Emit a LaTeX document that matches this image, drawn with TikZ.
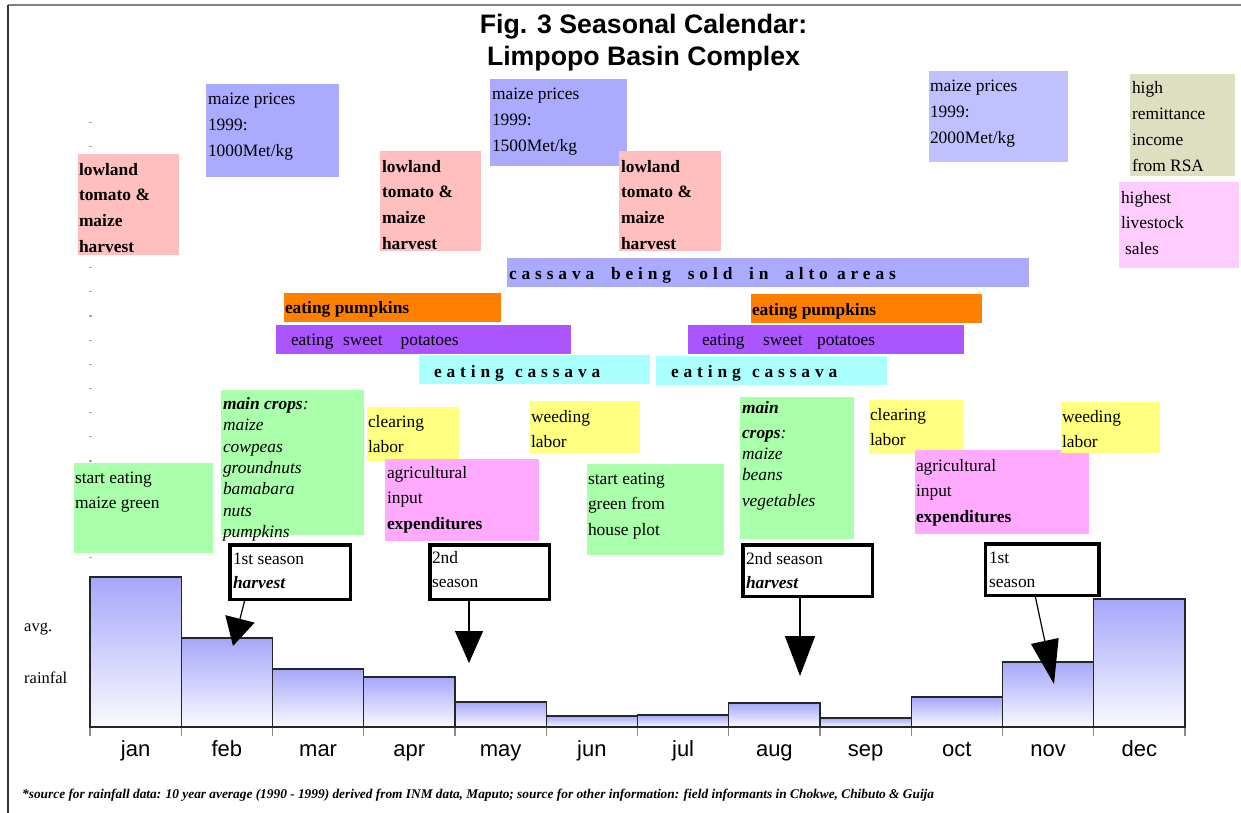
\documentclass[tikz,border=0pt]{standalone}
\usepackage{fontspec}
\setmainfont{Liberation Serif}
\newfontfamily\arialf{Liberation Sans}
\newfontfamily\spacedf[LetterSpace=28]{Liberation Serif}
\usetikzlibrary{arrows.meta,calc}

\definecolor{pricebl}{RGB}{170,170,255}
\definecolor{pricebltwo}{RGB}{192,192,255}
\definecolor{tomred}{RGB}{255,191,191}
\definecolor{khaki}{RGB}{222,222,192}
\definecolor{lvpink}{RGB}{255,204,255}
\definecolor{pumpor}{RGB}{255,128,0}
\definecolor{potpur}{RGB}{170,85,255}
\definecolor{cascyan}{RGB}{170,255,255}
\definecolor{crgreen}{RGB}{170,255,170}
\definecolor{labyel}{RGB}{255,255,128}
\definecolor{agpink}{RGB}{255,170,255}
\definecolor{bartop}{RGB}{166,166,250}
\definecolor{barbot}{RGB}{250,250,255}

\tikzset{
  fillbox/.style={anchor=north west, inner sep=0pt, outer sep=0pt, draw=none},
  btxt/.style={anchor=north west, inner sep=0pt, outer sep=0pt, align=left,
    font=\fontsize{17.4}{25.8}\selectfont},
  linetxt/.style={anchor=base west, inner sep=0pt, outer sep=0pt,
    font=\fontsize{17.4}{20}\selectfont},
  spacedtxt/.style={anchor=base west, inner sep=0pt, outer sep=0pt,
    font=\spacedf\bfseries\fontsize{17.4}{20}\selectfont},
  croptxt/.style={anchor=north west, inner sep=0pt, outer sep=0pt, align=left,
    font=\fontsize{17.4}{21.3}\selectfont},
  callbox/.style={draw=black, line width=3.5pt, fill=white, inner sep=0pt, outer sep=0pt},
  ctxt/.style={anchor=north west, inner sep=0pt, outer sep=0pt, align=left,
    font=\fontsize{17.4}{24}\selectfont},
  callarrow/.style={line width=1.2pt, draw=black},
  month/.style={anchor=base, inner sep=0pt, font=\arialf\fontsize{22}{26}\selectfont},
  axlabel/.style={anchor=base west, inner sep=0pt, font=\fontsize{16.5}{20}\selectfont},
  titletxt/.style={anchor=base, inner sep=0pt, font=\arialf\bfseries\fontsize{26.7}{32}\selectfont},
  foot/.style={anchor=base west, inner sep=0pt, font=\bfseries\itshape\fontsize{13.35}{15}\selectfont},
  bar/.style={top color=bartop, bottom color=barbot, draw=black!85, line width=1.2pt},
  tick/.style={draw=black!45, line width=1.4pt},
}

% name, x, y, w, h, colour, dx, dy, text
\newcommand{\tbox}[9]{%
  \node[fillbox, fill=#6, minimum width=#4pt, minimum height=#5pt] (#1) at (#2,#3) {};
  \node[btxt] (#1-t) at ([shift={(#7,#8)}]#1.north west) {\strut #9};
}

\begin{document}
\begin{tikzpicture}[x=1pt,y=-1pt]
\useasboundingbox (0,0) rectangle (1241,813);
\fill[white] (0,0) rectangle (1241,813);

% frame
\draw[black!50, line width=1.6pt] (8,5) -- (1241,5);
\draw[black!80, line width=1.3pt] (8,5) -- (8,813);

% little guide dots
\foreach \k in {0,...,18} \fill[black!35] (89,{122+24.17*\k}) rectangle (91.5,{123.2+24.17*\k});

% title
\node[titletxt] (title1) at (643.5,34) {Fig. 3 Seasonal Calendar:};
\node[titletxt] (title2) at (643.5,66) {Limpopo Basin Complex};

% top boxes
\tbox{p1}{206}{84}{133}{93}{pricebl}{2}{2.94}{maize prices\\1999:\\1000Met/kg}
\tbox{t1}{78}{154}{101}{101}{tomred}{1}{2.94}{\textbf{lowland}\\\textbf{tomato \&}\\\textbf{maize}\\\textbf{harvest}}
\tbox{t2}{380}{151}{101}{100}{tomred}{2}{2.94}{\textbf{lowland}\\\textbf{tomato \&}\\\textbf{maize}\\\textbf{harvest}}
\tbox{p2}{490}{79}{137}{87}{pricebl}{2}{2.94}{maize prices\\1999:\\1500Met/kg}
\tbox{t3}{619}{151}{102}{100}{tomred}{2}{2.94}{\textbf{lowland}\\\textbf{tomato \&}\\\textbf{maize}\\\textbf{harvest}}
\tbox{p3}{929}{71}{139}{91}{pricebltwo}{1}{2.94}{maize prices\\1999:\\2000Met/kg}
\tbox{rem}{1130}{74}{105}{102}{khaki}{2}{1.94}{high\\remittance\\income\\from RSA}
\tbox{live}{1119}{182}{120}{86}{lvpink}{2}{2.94}{highest\\livestock\\\hspace{4pt}sales}

% long bars
\node[fillbox, fill=pricebl, minimum width=522pt, minimum height=29pt] (sold) at (507,258) {};
\node[spacedtxt] (sold-t) at (509,279) {cassava\hspace{7.5pt} being\hspace{7.5pt} sold\hspace{7.5pt} in\hspace{7.5pt} alto areas};
\node[fillbox, fill=pumpor, minimum width=217pt, minimum height=29pt] (pk1) at (284,293) {};
\node[linetxt, font=\bfseries\fontsize{17.4}{20}\selectfont] (pk1-t) at (285,313) {eating pumpkins};
\node[fillbox, fill=potpur, minimum width=295pt, minimum height=29pt] (sp1) at (276,325) {};
\node[linetxt] (sp1-t) at (291,345) {eating\hspace{9.5pt}sweet\hspace{18pt}potatoes};
\node[fillbox, fill=cascyan, minimum width=231pt, minimum height=29pt] (cs1) at (419,355) {};
\node[spacedtxt] (cs1-t) at (434,377) {eating\hspace{2pt} cassava};
\node[fillbox, fill=pumpor, minimum width=231pt, minimum height=29pt] (pk2) at (751,294) {};
\node[linetxt, font=\bfseries\fontsize{17.4}{20}\selectfont] (pk2-t) at (752,315) {eating pumpkins};
\node[fillbox, fill=potpur, minimum width=276pt, minimum height=29pt] (sp2) at (688,325) {};
\node[linetxt] (sp2-t) at (702,345) {eating\hspace{18.5pt}sweet\hspace{14.5pt}potatoes};
\node[fillbox, fill=cascyan, minimum width=231pt, minimum height=29pt] (cs2) at (656,356) {};
\node[spacedtxt] (cs2-t) at (671,377) {eating\hspace{2pt} cassava};

% lower boxes
\node[fillbox, fill=crgreen, minimum width=143pt, minimum height=145pt] (mc1) at (221,390) {};
\node[croptxt] (mc1-t) at ([shift={(2,4.6)}]mc1.north west)
  {\strut\textbf{\textit{main crops}}\textit{:}\\\textit{maize}\\\textit{cowpeas}\\\textit{groundnuts}\\\textit{bamabara}\\\textit{nuts}\\\textit{pumpkins}};
\tbox{seg}{74}{463}{139}{90}{crgreen}{1}{1.94}{start eating\\maize green}
\tbox{cl1}{367}{407}{92}{54}{labyel}{1}{1.94}{clearing\\labor}
\tbox{ag1}{385}{459}{154}{82}{agpink}{2}{0.94}{agricultural\\input\\\textbf{expenditures}}
\tbox{wd1}{530}{401}{110}{52}{labyel}{1}{2.94}{weeding\\labor}
\tbox{seh}{587}{464}{137}{91}{crgreen}{1}{1.94}{start eating\\green from\\house plot}
\node[fillbox, fill=crgreen, minimum width=114pt, minimum height=142pt] (mc2) at (740,397) {};
\node[croptxt] (mc2-t) at ([shift={(2,1.1)}]mc2.north west)
  {\strut\textbf{\textit{main}}\\[3.7pt]\textbf{\textit{crops}}\textit{:}\\\textit{maize}\\\textit{beans}\\[4.7pt]\textit{vegetables}};
\tbox{cl2}{869}{400}{95}{54}{labyel}{1}{1.94}{clearing\\labor}
\tbox{ag2}{915}{450}{174}{84}{agpink}{1}{2.94}{agricultural\\input\\\textbf{expenditures}}
\tbox{wd2}{1061}{402}{99}{51}{labyel}{1}{1.94}{weeding\\labor}

% rainfall bars
\foreach \t [count=\i from 0] in {577,638,669,677,702,716,715,703,718,697,662,599} {
  \pgfmathsetmacro\xa{90+91.25*\i}
  \pgfmathsetmacro\xb{90+91.25*(\i+1)}
  \shade[bar] (\xa,\t) rectangle (\xb,727);
}
\draw[black!85, line width=1.2pt] (90,727) -- (1185,727);
\foreach \i in {0,...,12} \draw[tick] ({90+91.25*\i},727.6) -- ({90+91.25*\i},736);
\foreach \m [count=\i from 0] in {jan,feb,mar,apr,may,jun,jul,aug,sep,oct,nov,dec}
  \node[month] (m\i) at ({90+91.25*(\i+0.5)},756) {\m};

\node[axlabel] (avg) at (24,631) {avg.};
\node[axlabel] (rain) at (24,683) {rainfal};

% callouts
\node[callbox, minimum width=120.5pt, minimum height=54.5pt] (c1) at (290,572) {};
\node[ctxt] (c1-t) at (233,547.2) {\strut 1st season\\\textbf{\textit{harvest}}};
\node[callbox, minimum width=119.5pt, minimum height=54.5pt] (c2) at (489.5,572) {};
\node[ctxt] (c2-t) at (432,546.2) {\strut 2nd\\season};
\node[callbox, minimum width=129.5pt, minimum height=51.5pt] (c3) at (807.5,570.5) {};
\node[ctxt] (c3-t) at (746,547.2) {\strut 2nd season\\\textbf{\textit{harvest}}};
\node[callbox, minimum width=113.5pt, minimum height=51.5pt] (c4) at (1042,569.5) {};
\node[ctxt] (c4-t) at (989,546.2) {\strut 1st\\season};

\coordinate (a1) at (233,646);
\coordinate (a2) at (469,663);
\coordinate (a3) at (800,676);
\coordinate (a4) at (1054,684);
\draw[callarrow, -{Triangle[length=28pt,width=30pt]}] ([xshift=15.25pt]c1.south west) -- (a1);
\draw[callarrow, -{Triangle[length=32pt,width=28pt]}] ([xshift=39.25pt]c2.south west) -- (a2);
\draw[callarrow, -{Triangle[length=40pt,width=30pt]}] ([xshift=57.25pt]c3.south west) -- (a3);
\draw[callarrow, -{Triangle[length=44pt,width=28pt]}] ([xshift=49.75pt]c4.south west) -- (a4);

% footnote
\node[foot] (fn) at (22,798) {*source for rainfall data: 10 year average (1990 - 1999) derived from INM data, Maputo; source for other information: field informants in Chokwe, Chibuto \& Guija};
\end{tikzpicture}
\end{document}
